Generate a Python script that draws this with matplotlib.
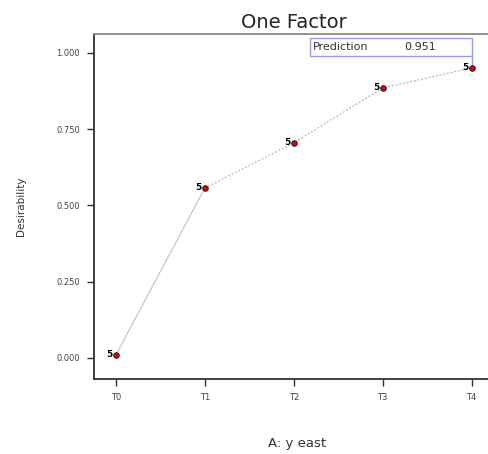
import matplotlib
matplotlib.use("Agg")
import matplotlib.pyplot as plt

categories = ["T0", "T1", "T2", "T3", "T4"]
desirability = [0.010, 0.557, 0.705, 0.885, 0.951]
replicates = ["5", "5", "5", "5", "5"]
yticks = [0.0, 0.25, 0.5, 0.75, 1.0]
ytick_labels = ["0.000", "0.250", "0.500", "0.750", "1.000"]
prediction = 0.951

W, H = 488, 454
fig = plt.figure(figsize=(W / 100, H / 100), dpi=100)
ax_left, ax_right, ax_top, ax_bottom = 94, 500, 34, 379
ax = fig.add_axes([ax_left / W, 1 - ax_bottom / H, (ax_right - ax_left) / W, (ax_bottom - ax_top) / H])

x = list(range(len(categories)))
ax.plot(x[:2], desirability[:2], color="#c8c8c8", lw=0.9, zorder=2)
ax.plot(x[1:], desirability[1:], color="#b8b8b8", lw=0.9, ls=(0, (1.5, 1.5)), zorder=2)
ax.scatter(x, desirability, s=16, marker="o", color="#e00000", edgecolor="#202020", linewidth=0.7, zorder=3)
for xi, yi, lab in zip(x, desirability, replicates):
    ax.annotate(lab, (xi, yi), xytext=(-2.5, 0.5), textcoords="offset points", ha="right", va="center",
                fontsize=6.5, fontweight="bold", color="black", zorder=4)

ax.set_xlim(-0.247, 4.32)
ax.set_ylim(-0.069, 1.062)
ax.set_xticks(x)
ax.set_xticklabels(categories)
ax.set_yticks(yticks)
ax.set_yticklabels(ytick_labels)
ax.tick_params(axis="both", direction="out", length=5, width=1.0, color="#303030",
               labelsize=6, labelcolor="#444444", pad=5)
for s in ["left", "bottom"]:
    ax.spines[s].set_linewidth(1.3)
    ax.spines[s].set_color("#303030")
ax.spines["top"].set_linewidth(1.3)
ax.spines["top"].set_color("#888888")
ax.spines["right"].set_visible(False)

ax.set_ylabel("Desirability", fontsize=7.5, color="#333333", labelpad=22)
ax.set_xlabel("A: y east", fontsize=9.5, color="#333333", labelpad=25)
ax.set_title("One Factor", fontsize=14, color="#222222", pad=4, x=(294 - ax_left) / (ax_right - ax_left))

# Prediction box
box_x0, box_x1 = 2.18, 4.0
box_y0, box_y1 = 0.99, 1.05
ax.add_patch(plt.Rectangle((box_x0, box_y0), box_x1 - box_x0, box_y1 - box_y0, fill=True,
                           facecolor="white", edgecolor="#9a9aee", lw=1.0, zorder=5))
ax.plot([4, 4], [box_y0, prediction], color="#9a9aee", lw=1.0, zorder=2)
ax.text(box_x0 + 0.04, (box_y0 + box_y1) / 2, "Prediction", fontsize=8, color="#333333",
        va="center", ha="left", zorder=6)
ax.text(3.24, (box_y0 + box_y1) / 2, f"{prediction:.3f}", fontsize=8, color="#333333",
        va="center", ha="left", zorder=6)

fig.savefig("out.png", dpi=100)
